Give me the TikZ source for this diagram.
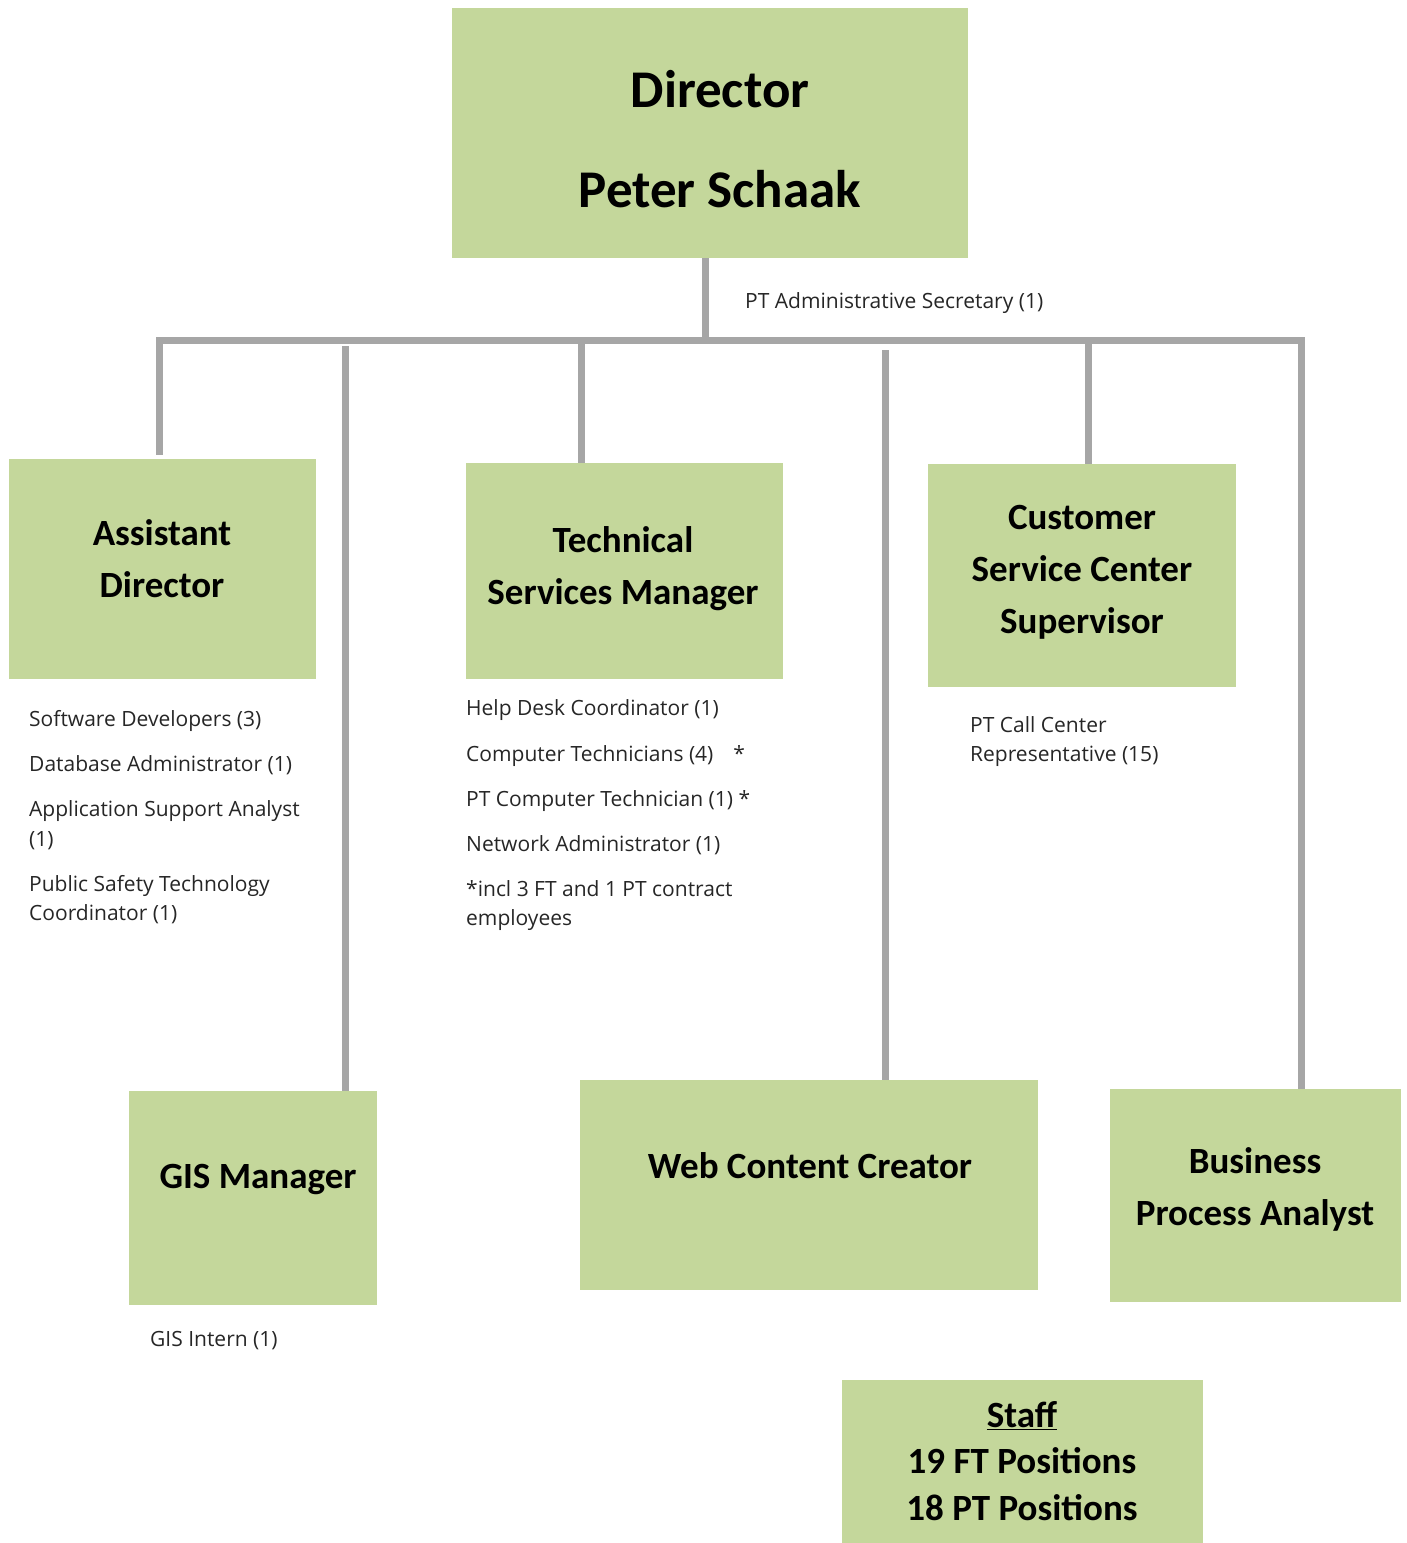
\documentclass[tikz,border=0pt]{standalone}
\usepackage{fontspec}
\setmainfont{Open Sans}
\newfontfamily\boxfont{Carlito}
\usepackage{tikz}
\usetikzlibrary{positioning}

\definecolor{boxgreen}{HTML}{C4D79B}
\definecolor{linegray}{HTML}{A6A6A6}
\definecolor{textgray}{HTML}{262626}

\tikzset{
	orgbox/.style={fill=boxgreen, inner sep=0pt},
	boxtext/.style={font={\boxfont\bfseries\fontsize{37}{52}\selectfont}, align=center, inner sep=0pt},
	sublist/.style={font={\fontsize{21}{29.5}\selectfont}, align=left, anchor=north west, inner sep=0pt, text=textgray},
	conn/.style={draw=linegray, line width=7pt},
}

\begin{document}
\begin{tikzpicture}[x=1pt, y=-1pt]
			\useasboundingbox (0,0) rectangle (1407,1543);

			\node[orgbox, minimum width=516pt, minimum height=250pt] (dir) at (710,133) {};
			\node[orgbox, minimum width=307pt, minimum height=220pt] (ad) at (162.5,569) {};
			\node[orgbox, minimum width=317pt, minimum height=216pt] (tsm) at (624.5,571) {};
			\node[orgbox, minimum width=308pt, minimum height=223pt] (css) at (1082,575.5) {};
			\node[orgbox, minimum width=248pt, minimum height=214pt] (gis) at (253,1198) {};
			\node[orgbox, minimum width=458pt, minimum height=210pt] (wcc) at (809,1185) {};
			\node[orgbox, minimum width=291pt, minimum height=213pt] (bpa) at (1255.5,1195.5) {};
			\node[orgbox, minimum width=361pt, minimum height=163pt] (staff) at (1022.5,1461.5) {};

			\node[boxtext, font={\boxfont\bfseries\fontsize{53}{100}\selectfont}] (dirtxt) at (720,139) {Director\\Peter Schaak};
			\node[boxtext] (adtxt) at (162,559) {Assistant\\Director};
			\node[boxtext] (tsmtxt) at (623,569) {Technical\\Services Manager};
			\node[boxtext] (csstxt) at (1082,572) {Customer\\Service Center\\Supervisor};
			\node[boxtext, anchor=base] (gistxt) at (258,1188) {GIS Manager};
			\node[boxtext, anchor=base] (wcctxt) at (810,1178) {Web Content Creator};
			\node[boxtext] (bpatxt) at (1255,1189) {Business\\Process Analyst};
			\node[boxtext, font={\boxfont\bfseries\fontsize{37}{46.5}\selectfont}] (stafftxt) at (1022,1461) {\underline{Staff}\\19 FT Positions\\18 PT Positions};

			\node[sublist] (sec) at (745,292) {PT Administrative Secretary (1)};
			\node[sublist] (adlist) at (29,710) {Software Developers (3)\\[15.5pt]
				Database Administrator (1)\\[16pt]
				Application Support Analyst\\(1)\\[15.5pt]
				Public Safety Technology\\Coordinator (1)};
			\node[sublist] (tsmlist) at (466,699) {Help Desk Coordinator (1)\\[16.5pt]
				Computer Technicians (4)\hspace{20pt}*\\[15.5pt]
				PT Computer Technician (1) *\\[15.5pt]
				Network Administrator (1)\\[15.5pt]
				*incl 3 FT and 1 PT contract\\employees};
			\node[sublist] (csslist) at (970,716) {PT Call Center\\Representative (15)};
			\node[sublist] (gislist) at (150,1331) {GIS Intern (1)};

			\coordinate (busL) at (159,340);
			\coordinate (busR) at (1301,340);
			\coordinate (dirfoot) at (705,340);
			\coordinate (gistap) at (345,346);
			\coordinate (tsmtap) at (581,340);
			\coordinate (wcctap) at (885,350);
			\coordinate (csstap) at (1088,344);

			\draw[conn] ([yshift=4pt]ad.north -| busL) -- (busL) -- (busR) -- (bpa.north -| busR);
			\draw[conn] (dir.south -| dirfoot) -- (dirfoot);
			\draw[conn] (gistap) -- (gis.north -| gistap);
			\draw[conn] (tsmtap) -- (tsm.north -| tsmtap);
			\draw[conn] (wcctap) -- (wcc.north -| wcctap);
			\draw[conn] (csstap) -- (css.north -| csstap);
\end{tikzpicture}
\end{document}
